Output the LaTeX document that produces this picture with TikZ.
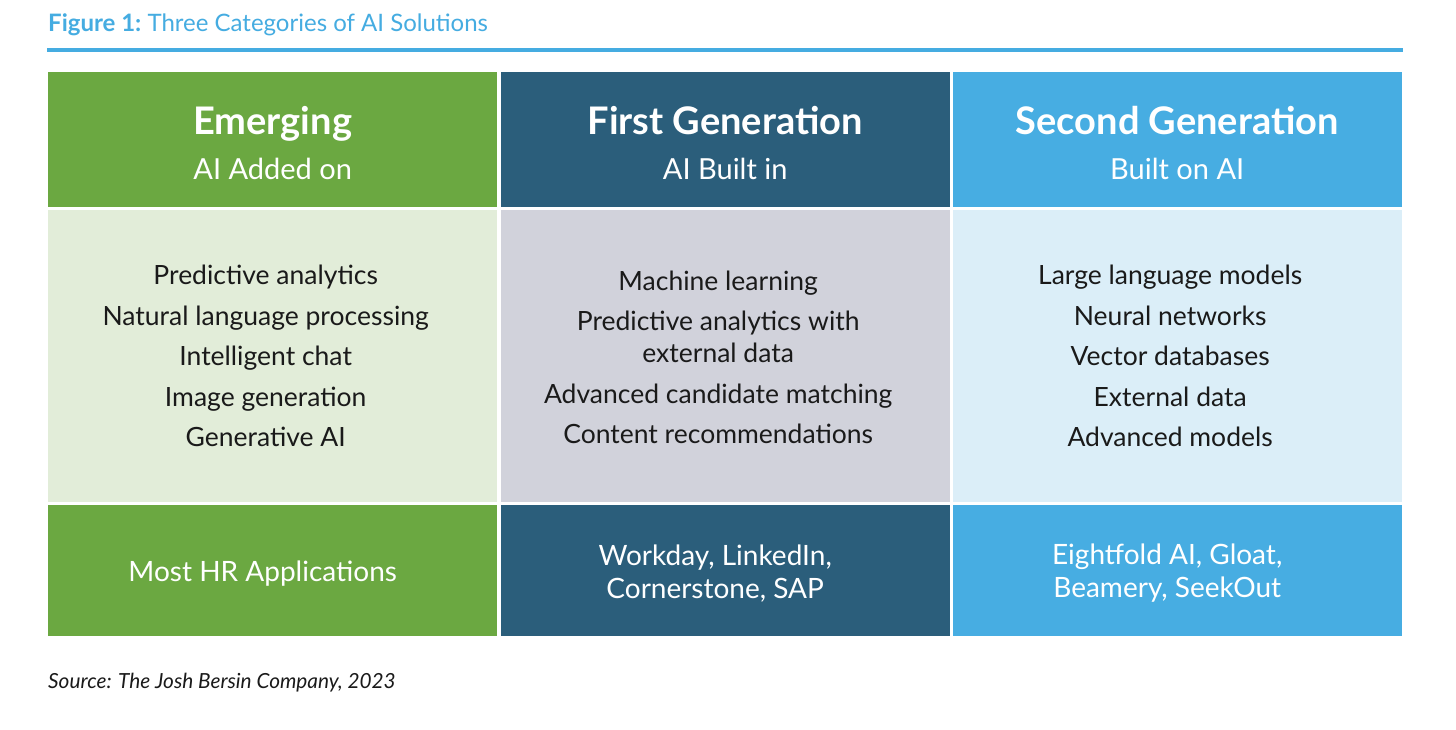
\documentclass[tikz,border=0pt]{standalone}
\usepackage{fontspec}
\setmainfont{Lato}
\usetikzlibrary{positioning}

\definecolor{figblue}{HTML}{45ACE1}
\definecolor{hdgreen}{HTML}{6BA841}
\definecolor{hddark}{HTML}{2B5E7B}
\definecolor{hdlight}{HTML}{47ADE2}
\definecolor{bdgreen}{HTML}{E2EDD9}
\definecolor{bdgray}{HTML}{D1D2DB}
\definecolor{bdblue}{HTML}{DBEEF8}
\definecolor{bodytext}{HTML}{1A1A1A}

\begin{document}
\begin{tikzpicture}[x=1pt, y=-1pt,
	cell/.style={anchor=north west, inner sep=0pt, minimum width=449pt},
	headcell/.style={cell, minimum height=135.5pt},
	bodycell/.style={cell, minimum height=292.5pt},
	footcell/.style={cell, minimum height=131pt},
	headtext/.style={inner sep=0pt, align=center, text=white, font=\fontsize{29}{45}\selectfont},
	bodytext/.style={inner sep=0pt, align=center, text=bodytext, font=\fontsize{26.5}{32}\selectfont},
	foottext/.style={inner sep=0pt, align=center, text=white, font=\fontsize{28}{33}\selectfont}]
	\useasboundingbox[fill=white] (0,0) rectangle (1456,729);
	% title and rule
	\node[anchor=base west, inner sep=0pt, text=figblue, font=\fontsize{24}{28}\selectfont] (title) at (48,31) {\textbf{Figure 1:}~Three Categories of AI Solutions};
	\coordinate (ruleL) at (47,50);
	\coordinate (ruleR) at (1403,50);
	\draw[figblue, line width=4pt] (ruleL) -- (ruleR);
	% cells
	\node[headcell, fill=hdgreen] (emhead) at (48,71.5) {};
	\node[headcell, fill=hddark] (fghead) at (500.5,71.5) {};
	\node[headcell, fill=hdlight] (sghead) at (952.5,71.5) {};
	\node[bodycell, fill=bdgreen] (embody) at (48,209.5) {};
	\node[bodycell, fill=bdgray] (fgbody) at (500.5,209.5) {};
	\node[bodycell, fill=bdblue] (sgbody) at (952.5,209.5) {};
	\node[footcell, fill=hdgreen] (emfoot) at (48,504.5) {};
	\node[footcell, fill=hddark] (fgfoot) at (500.5,504.5) {};
	\node[footcell, fill=hdlight] (sgfoot) at (952.5,504.5) {};
	% header texts
	\node[headtext] (emheadtxt) at ([yshift=-4pt]emhead.center) {{\fontsize{38}{38}\selectfont\bfseries Emerging}\\AI Added on};
	\node[headtext] (fgheadtxt) at ([yshift=-4pt]fghead.center) {{\fontsize{38}{38}\selectfont\bfseries First Generation}\\AI Built in};
	\node[headtext] (sgheadtxt) at ([yshift=-4pt]sghead.center) {{\fontsize{38}{38}\selectfont\bfseries Second Generation}\\Built on AI};
	% body texts
	\node[bodytext] (embodytxt) at ([xshift=-7pt]embody.center) {Predictive analytics\\[8.5pt]Natural language processing\\[8.5pt]Intelligent chat\\[8.5pt]Image generation\\[8.5pt]Generative AI};
	\node[bodytext] (fgbodytxt) at ([xshift=-7pt, yshift=-1.5pt]fgbody.center) {Machine learning\\[8.5pt]Predictive analytics with\\external data\\[8.5pt]Advanced candidate matching\\[8.5pt]Content recommendations};
	\node[bodytext] (sgbodytxt) at ([xshift=-7pt]sgbody.center) {Large language models\\[8.5pt]Neural networks\\[8.5pt]Vector databases\\[8.5pt]External data\\[8.5pt]Advanced models};
	% bottom texts
	\node[foottext] (emfoottxt) at ([xshift=-10pt, yshift=-3pt]emfoot.center) {Most HR Applications};
	\node[foottext] (fgfoottxt) at ([xshift=-10pt, yshift=-3pt]fgfoot.center) {Workday, LinkedIn,\\Cornerstone, SAP};
	\node[foottext] (sgfoottxt) at ([xshift=-10pt, yshift=-3pt]sgfoot.center) {Eightfold AI, Gloat,\\Beamery, SeekOut};
	% source
	\node[anchor=base west, inner sep=0pt, text=bodytext, font=\fontsize{20.8}{24}\selectfont\itshape] (source) at (48,688) {Source: The Josh Bersin Company, 2023};
\end{tikzpicture}
\end{document}
